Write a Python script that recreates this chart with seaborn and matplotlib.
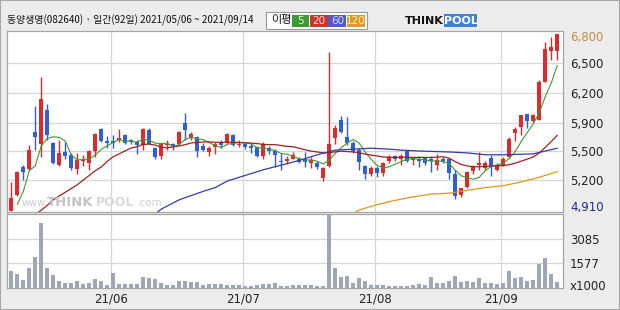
import numpy as np
import pandas as pd
import matplotlib
matplotlib.use("Agg")
import matplotlib.pyplot as plt
import seaborn as sns
from matplotlib.patches import Rectangle

# ---------------- data ----------------
open_ = [4910, 5080, 5380, 5360, 5750, 5630, 5990, 5640, 5400, 5540,
         5510, 5360, 5440, 5420, 5550, 5790, 5650, 5650, 5670, 5720,
         5670, 5650, 5610, 5780, 5580, 5500, 5610, 5620, 5620, 5850,
         5690, 5700, 5600, 5540, 5590, 5650, 5640, 5720, 5610, 5620,
         5600, 5590, 5500, 5580, 5550, 5440, 5440, 5470, 5470, 5460,
         5420, 5420, 5260, 5390, 5690, 5880, 5700, 5640, 5560, 5390,
         5310, 5370, 5320, 5440, 5500, 5460, 5550, 5450, 5460, 5480,
         5470, 5400, 5470, 5460, 5310, 5080, 5170, 5340, 5400, 5370,
         5480, 5350, 5400, 5490, 5740, 5810, 5950, 5870, 5880, 6290,
         6620, 6620]
high = [5220, 5340, 5400, 5610, 6030, 6340, 6050, 5650, 5670, 5650,
        5530, 5530, 5510, 5560, 5740, 5800, 5710, 5720, 5790, 5730,
        5680, 5670, 5800, 5800, 5590, 5640, 5670, 5640, 5760, 5960,
        5750, 5710, 5640, 5600, 5650, 5670, 5740, 5730, 5670, 5630,
        5640, 5600, 5650, 5600, 5570, 5530, 5500, 5540, 5490, 5540,
        5490, 5440, 5380, 6610, 5830, 5920, 5910, 5660, 5580, 5400,
        5390, 5390, 5430, 5510, 5510, 5520, 5560, 5490, 5500, 5490,
        5500, 5520, 5490, 5480, 5350, 5160, 5340, 5400, 5540, 5440,
        5510, 5420, 5490, 5700, 5810, 5940, 5950, 5950, 6310, 6710,
        6770, 6800]
low = [4910, 5070, 5240, 5350, 5560, 5490, 5670, 5410, 5390, 5460,
       5350, 5300, 5390, 5350, 5490, 5650, 5580, 5580, 5650, 5630,
       5620, 5520, 5560, 5620, 5470, 5460, 5560, 5560, 5610, 5670,
       5670, 5490, 5550, 5500, 5520, 5580, 5630, 5600, 5590, 5570,
       5530, 5490, 5470, 5520, 5380, 5350, 5410, 5460, 5420, 5380,
       5370, 5360, 5230, 5380, 5630, 5740, 5610, 5530, 5350, 5250,
       5280, 5270, 5280, 5420, 5440, 5400, 5430, 5400, 5380, 5400,
       5330, 5350, 5420, 5250, 5040, 5060, 5160, 5300, 5350, 5350,
       5280, 5340, 5390, 5480, 5660, 5720, 5800, 5860, 5880, 6290,
       6520, 6520]
close = [5050, 5330, 5330, 5560, 5700, 6110, 5720, 5420, 5530, 5500,
         5370, 5450, 5450, 5550, 5730, 5660, 5640, 5640, 5690, 5640,
         5650, 5610, 5790, 5630, 5490, 5630, 5630, 5600, 5750, 5770,
         5730, 5550, 5560, 5580, 5630, 5610, 5730, 5610, 5630, 5590,
         5580, 5500, 5630, 5550, 5510, 5430, 5460, 5510, 5430, 5430,
         5450, 5380, 5370, 5630, 5800, 5750, 5640, 5550, 5430, 5310,
         5370, 5320, 5420, 5490, 5460, 5500, 5440, 5470, 5440, 5420,
         5440, 5450, 5440, 5320, 5070, 5150, 5330, 5380, 5420, 5420,
         5390, 5400, 5470, 5680, 5790, 5930, 5870, 5930, 6290, 6640,
         6660, 6800]
volume = [1100, 950, 540, 1300, 1940, 4060, 1300, 890, 480, 400,
          400, 480, 320, 360, 600, 480, 270, 960, 340, 320,
          340, 340, 770, 710, 610, 400, 240, 240, 500, 500,
          440, 440, 240, 300, 300, 320, 270, 240, 240, 190,
          190, 270, 320, 320, 400, 190, 190, 240, 240, 270,
          240, 190, 190, 4593, 1270, 740, 790, 380, 670, 480,
          240, 240, 240, 210, 200, 200, 220, 230, 340, 240,
          730, 380, 380, 480, 790, 440, 480, 440, 670, 360,
          360, 300, 380, 1100, 670, 730, 520, 560, 1550, 1920,
          930, 420]

# moving-average segments whose history lies before the first shown day
ma5_lead = [4980, 5120, 5340]                       # days 1..3
ma20_lead = [4870, 4920, 4970, 5030, 5070, 5110, 5150, 5190,
             5240, 5290, 5340, 5380, 5440, 5490, 5520]  # days 4..18
ma60_day = [24, 25, 28, 32, 34, 36, 39, 42, 45, 48, 51, 54, 57, 60,
            63, 65, 68, 73, 76, 79, 82, 87, 91]
ma60_val = [4880, 4930, 5030, 5120, 5160, 5230, 5290, 5350, 5400, 5450,
            5510, 5560, 5570, 5580, 5570, 5560, 5550, 5540, 5530, 5510,
            5510, 5520, 5580]
ma120_day = [57, 58, 60, 63, 66, 70, 73, 76, 79, 82, 85, 88, 91]
ma120_val = [4880, 4920, 4960, 5010, 5050, 5090, 5100, 5130, 5160, 5180,
             5220, 5270, 5330]

price_grid = [6490, 6170, 5850, 5550, 5240]
price_labels = ["6,500", "6,200", "5,900", "5,500", "5,200"]
max_label = "6,800"
min_label = "4,910"
vol_grid = [1577, 3085]
vol_labels = ["1577", "3085"]
month_day = [17, 39, 61, 82]
month_labels = ["21/06", "21/07", "21/08", "21/09"]
title = "동양생명(082640) · 일간(92일) 2021/05/06 ~ 2021/09/14"
legend_items = ["5", "20", "60", "120"]

# ---------------- styling ----------------
sns.set_theme(style="white")
plt.rcParams["font.family"] = ["Noto Sans CJK KR", "DejaVu Sans"]

W, H = 620, 310
fig = plt.figure(figsize=(W / 100, H / 100), dpi=100, facecolor="#ececec")

def fbox(x0, y0, x1, y1):
    return [x0 / W, 1 - y1 / H, (x1 - x0) / W, (y1 - y0) / H]

ax = fig.add_axes(fbox(7, 31, 563, 212))
axv = fig.add_axes(fbox(7, 214, 563, 288))

RED = "#de2a2a"
BLUE = "#2f5fd0"
GRID = "#d6d6d6"
SPINE = "#a6a6a6"
n = len(close)
days = np.arange(n)
xl = (-0.72, 91.95)

o = np.array(open_, float); c = np.array(close, float)
hi = np.array(high, float); lo = np.array(low, float)
up = c >= o
cols = np.where(up, RED, BLUE)

for a in (ax, axv):
    a.set_facecolor("white")
    for s in a.spines.values():
        s.set_color(SPINE)
        s.set_linewidth(0.9)
    for m in month_day:
        a.axvline(m - 0.45, color=GRID, lw=0.9, zorder=0)
    a.set_xlim(*xl)

# price grid
for g in price_grid:
    ax.axhline(g, color=GRID, lw=0.9, zorder=0)

# candles
ax.vlines(days, lo, hi, colors=cols, linewidth=1.0, zorder=2)
body_bottom = np.minimum(o, c)
body_h = np.maximum(np.abs(c - o), 12)
ax.bar(days, body_h, bottom=body_bottom, width=0.72, color=cols,
       linewidth=0, zorder=3)

# moving averages
ma5 = np.full(n, np.nan)
ma5[1:4] = ma5_lead
ma5[4:] = pd.Series(close).rolling(5).mean().values[4:]
ma20 = np.full(n, np.nan)
ma20[4:19] = ma20_lead
ma20[19:] = pd.Series(close).rolling(20).mean().values[19:]

line_kw = dict(ax=ax, estimator=None, sort=False, legend=False, zorder=4)
sns.lineplot(x=days, y=ma5, color="#3f9a2f", linewidth=0.8, **line_kw)
sns.lineplot(x=days, y=ma20, color="#9c2222", linewidth=0.9, **line_kw)
sns.lineplot(x=ma60_day, y=ma60_val, color="#3a3aa6", linewidth=0.9, **line_kw)
sns.lineplot(x=ma120_day, y=ma120_val, color="#e4951c", linewidth=0.9, **line_kw)

ax.set_ylim(4899, 6832)
ax.set_xlim(*xl)
ax.set_xticks([])
ax.set_xlabel("")
ax.set_ylabel("")
ax.yaxis.tick_right()
ax.set_yticks(price_grid)
ax.set_yticklabels(price_labels)
ax.tick_params(axis="y", length=0, pad=5, labelsize=8.5, labelcolor="#222222")
for lab in ax.get_yticklabels():
    lab.set_family("DejaVu Sans")
ax.text(1.0125, (212 - 38) / 181, max_label, transform=ax.transAxes,
        ha="left", va="center", fontsize=8.5, color="#c98a44", family="DejaVu Sans")
ax.text(1.0125, (212 - 207) / 181, min_label, transform=ax.transAxes,
        ha="left", va="center", fontsize=8.5, color="#1e2a8a", family="DejaVu Sans")

# watermark
wm_y = 1 - 203 / H
fig.text(22 / W, wm_y, "www.", fontsize=7, color="#cccccc", va="center",
         family="DejaVu Sans")
fig.text(47 / W, wm_y, "THINK", fontsize=9.5, color="#c4c4c4", va="center",
         fontweight="bold", family="DejaVu Sans")
fig.text(96 / W, wm_y, "POOL", fontsize=9, color="#dadada", va="center",
         fontweight="bold", family="DejaVu Sans")
fig.text(137 / W, wm_y, ".com", fontsize=7.5, color="#cccccc", va="center",
         family="DejaVu Sans")

# volume
for g in vol_grid:
    axv.axhline(g, color=GRID, lw=0.9, zorder=0)
sns.barplot(x=days, y=volume, ax=axv, native_scale=True, color="#9ea6b8",
            width=0.72, saturation=1, linewidth=0, zorder=2)
axv.set_ylim(69, 4593)
axv.set_xlim(*xl)
axv.set_xlabel("")
axv.set_ylabel("")
axv.yaxis.tick_right()
axv.set_yticks(vol_grid)
axv.set_yticklabels(vol_labels)
axv.tick_params(axis="y", length=0, pad=5, labelsize=8.5, labelcolor="#222222")
axv.set_xticks([m - 0.45 for m in month_day])
axv.set_xticklabels(month_labels)
axv.tick_params(axis="x", length=0, pad=3, labelsize=8.5, labelcolor="#222222")
for lab in axv.get_yticklabels() + axv.get_xticklabels():
    lab.set_family("DejaVu Sans")
axv.text(1.0125, 0.02, "x1000", transform=axv.transAxes, ha="left",
         va="center", fontsize=8.5, color="#222222", family="DejaVu Sans")

# header
fig.text(7 / W, 1 - 20.5 / H, title, fontsize=7.1, color="#111111", va="center")
fig.add_artist(Rectangle((265.5 / W, 1 - 28.5 / H), 101 / W, 16 / H,
                         transform=fig.transFigure, facecolor="white",
                         edgecolor="#9a9a9a", lw=0.8))
fig.text(281 / W, 1 - 20.5 / H, "이평", fontsize=8, color="#111111",
         ha="center", va="center")
boxes = [(291.5, 309, "#3d9b35", "#e8f5c8"), (309.5, 328, "#c6362c", "#ffd8d0"),
         (328.5, 346.5, "#5656cc", "#dcdcff"), (347, 365, "#e09a28", "#fff3c0")]
for (x0, x1, fc, tc), lab in zip(boxes, legend_items):
    fig.add_artist(Rectangle((x0 / W, 1 - 27 / H), (x1 - x0) / W, 12 / H,
                             transform=fig.transFigure, facecolor=fc,
                             edgecolor="none"))
    fig.text((x0 + x1) / 2 / W, 1 - 21 / H, lab, fontsize=7.5, color=tc,
             ha="center", va="center", family="DejaVu Sans")

# logo
fig.text(405 / W, 1 - 20.5 / H, "THINK", fontsize=8, fontweight="heavy",
         color="#111111", va="center", family="DejaVu Sans")
fig.add_artist(Rectangle((444 / W, 1 - 27 / H), 33 / W, 13 / H,
                         transform=fig.transFigure, facecolor="#3f80dc",
                         edgecolor="none"))
fig.text(460.5 / W, 1 - 20.5 / H, "POOL", fontsize=8, fontweight="bold",
         color="white", ha="center", va="center", family="DejaVu Sans")

# outer border
fig.add_artist(Rectangle((0, 0), 1, 1, transform=fig.transFigure,
                         facecolor="none", edgecolor="#a8a8a8", lw=1.5))

fig.savefig("out.png", dpi=100, facecolor=fig.get_facecolor())
